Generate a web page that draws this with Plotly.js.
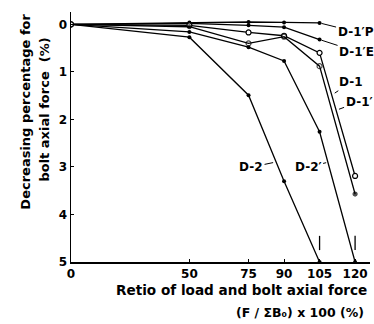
<!DOCTYPE html>
<html><head><meta charset="utf-8">
<script src="https://cdn.plot.ly/plotly-3.0.1.min.js"></script>
<style>body{margin:0;background:#fff}#c{width:374px;height:324px}</style>
</head><body><div id="c"></div>
<script>
// Data (x = load ratio %, y = decreasing percentage of bolt axial force %)
const ratioA = [0, 50, 75, 90, 105];
const ratioB = [0, 50, 75, 90, 105, 120];
const d1pP = [0, -0.04, -0.05, -0.04, -0.03];
const d1pE = [0, -0.02, 0.02, 0.06, 0.32];
const d1 = [0, 0.02, 0.17, 0.24, 0.60, 3.19];
const d1p = [0, 0.05, 0.40, 0.26, 0.88, 3.57];
const d2p = [0, 0.16, 0.48, 0.77, 2.26, 5.0];
const d2 = [0, 0.27, 1.49, 3.30, 5.0];
const xTicks = [0, 50, 75, 90, 105, 120];
const yTicks = [0, 1, 2, 3, 4, 5];
const breakX = [105, 105, null, 120, 120];
const breakY = [4.45, 4.75, null, 4.45, 4.75];

const F = "DejaVu Sans";
const line = {color: '#000', width: 1.3};
const dot = {symbol: 'circle', size: 4, color: '#000'};
const ring = {symbol: 'circle', size: 5, color: '#fff', line: {color: '#000', width: 1.2}};

const traces = [
  {x: ratioA, y: d1pP, mode: 'lines+markers', line, marker: dot},
  {x: ratioA, y: d1pE, mode: 'lines+markers', line, marker: dot},
  {x: ratioB, y: d1, mode: 'lines+markers', line, marker: ring},
  {x: ratioB, y: d1p, mode: 'lines+markers', line,
   marker: {symbol: ['circle-open','circle','circle-open','circle-open','circle-open','circle'],
            size: [5, 4, 5, 5, 5, 4], color: '#000', line: {color: '#000', width: 1.2}}},
  {x: ratioB, y: d2p, mode: 'lines+markers', line, marker: dot},
  {x: ratioA, y: d2, mode: 'lines+markers', line, marker: dot},
  {x: breakX, y: breakY, mode: 'lines', line: {color: '#000', width: 1.3}},
  {x: [0], y: [0], mode: 'markers', marker: ring}
];

function lab(text, x, y, ax, ay) {
  return {text, x, y, xref: 'x', yref: 'y', ax, ay, showarrow: true, arrowhead: 0,
    arrowwidth: 1, arrowcolor: '#000', standoff: 2,
    font: {family: F, size: 12, color: '#000', weight: 'bold'}};
}

const layout = {
  width: 374, height: 324,
  margin: {l: 71, r: 4, t: 12, b: 62},
  paper_bgcolor: '#fff', plot_bgcolor: '#fff',
  showlegend: false,
  xaxis: {range: [0, 126.3], tickvals: xTicks, ticktext: xTicks.map(String),
    showgrid: false, zeroline: false, showline: true, linecolor: '#000', linewidth: 1.5,
    ticks: 'inside', ticklen: 3, tickcolor: '#000',
    tickfont: {family: F, size: 12, color: '#000', weight: 'bold'}},
  yaxis: {range: [5, -0.26], tickvals: yTicks, ticktext: yTicks.map(String),
    showgrid: false, zeroline: false, showline: true, linecolor: '#000', linewidth: 1.5,
    ticks: 'inside', ticklen: 3, tickcolor: '#000',
    tickfont: {family: F, size: 12, color: '#000', weight: 'bold'}},
  annotations: [
    lab("D-1′P", 105, -0.03, 36, 9),
    lab("D-1′E", 105, 0.32, 37, 12),
    lab("D-1", 110.7, 1.47, 18, -12),
    lab("D-1′", 112.4, 1.80, 22, -8),
    lab("D-2", 86.2, 2.9, -24, 5),
    lab("D-2′", 108.6, 2.9, -20, 5),
    {text: "Decreasing percentage for", xref: 'paper', yref: 'paper', x: -0.155, y: 0.6,
     xanchor: 'center', yanchor: 'middle', textangle: -90, showarrow: false,
     font: {family: F, size: 13, color: '#000', weight: 'bold'}},
    {text: "bolt axial force  (%)", xref: 'paper', yref: 'paper', x: -0.09, y: 0.61,
     xanchor: 'center', yanchor: 'middle', textangle: -90, showarrow: false,
     font: {family: F, size: 13, color: '#000', weight: 'bold'}},
    {text: "Retio of load and bolt axial force", xref: 'paper', yref: 'paper', x: 0.995, y: -0.11,
     xanchor: 'right', yanchor: 'middle', showarrow: false,
     font: {family: F, size: 13.6, color: '#000', weight: 'bold'}},
    {text: "(F / ΣB₀) x 100 (%)", xref: 'paper', yref: 'paper', x: 0.985, y: -0.2,
     xanchor: 'right', yanchor: 'middle', showarrow: false,
     font: {family: F, size: 12.5, color: '#000', weight: 'bold'}}
  ]
};
Plotly.newPlot('c', traces, layout, {staticPlot: true, displayModeBar: false});
</script></body></html>
